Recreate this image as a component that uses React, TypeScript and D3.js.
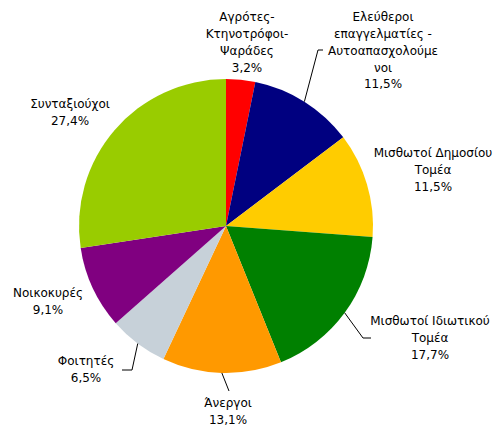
import React from "react";
import * as d3 from "d3";

const categories = [
  "Αγρότες-Κτηνοτρόφοι-Ψαράδες",
  "Ελεύθεροι επαγγελματίες - Αυτοαπασχολούμενοι",
  "Μισθωτοί Δημοσίου Τομέα",
  "Μισθωτοί Ιδιωτικού Τομέα",
  "Άνεργοι",
  "Φοιτητές",
  "Νοικοκυρές",
  "Συνταξιούχοι",
];
const values = [3.2, 11.5, 11.5, 17.7, 13.1, 6.5, 9.1, 27.4];
const labelLines = [
  ["Αγρότες-", "Κτηνοτρόφοι-", "Ψαράδες"],
  ["Ελεύθεροι", "επαγγελματίες -", "Αυτοαπασχολούμε", "νοι"],
  ["Μισθωτοί Δημοσίου", "Τομέα"],
  ["Μισθωτοί Ιδιωτικού", "Τομέα"],
  ["Άνεργοι"],
  ["Φοιτητές"],
  ["Νοικοκυρές"],
  ["Συνταξιούχοι"],
];
const colors = ["#FF0000", "#000080", "#FFCC00", "#008000", "#FF9900", "#C7D1D9", "#800080", "#99CC00"];

// label layout: center x, first line y (baseline-ish center), leader polyline (after edge point)
const layout: { x: number; y: number; leader?: [number, number][] }[] = [
  { x: 247, y: 17 },
  { x: 383, y: 17, leader: [[318, 50], [323, 50]] },
  { x: 433, y: 153 },
  { x: 430, y: 321, leader: [[363, 338], [371, 338]] },
  { x: 228, y: 403, leader: [[229, 391]] },
  { x: 86, y: 361, leader: [[132, 370], [122, 370]] },
  { x: 48, y: 293 },
  { x: 70, y: 104 },
];

const fmt = (v: number) => v.toFixed(1).replace(".", ",") + "%";

export default function App() {
  const cx = 226, cy = 226, r = 147;
  const pie = d3.pie<number>().sort(null).value((d) => d)(values);
  const arc = d3.arc<d3.PieArcDatum<number>>().innerRadius(0).outerRadius(r);
  const lh = 16.8;
  return (
    <svg width={494} height={427} style={{ display: "block", position: "absolute", left: 0, top: 0 }}
      fontFamily="'DejaVu Sans', Verdana, sans-serif" fontSize={12}>
      <rect width={494} height={427} fill="#fff" />
      <g transform={`translate(${cx},${cy})`}>
        {pie.map((p, i) => (
          <path key={i} d={arc(p) || ""} fill={colors[i]} />
        ))}
      </g>
      {pie.map((p, i) => {
        const L = layout[i];
        if (!L.leader) return null;
        const mid = (p.startAngle + p.endAngle) / 2;
        const ex = cx + r * Math.sin(mid), ey = cy - r * Math.cos(mid);
        const pts: [number, number][] = [[ex, ey], ...L.leader];
        return <path key={"l" + i} d={d3.line()(pts) || ""} fill="none" stroke="#000" strokeWidth={1} />;
      })}
      {pie.map((p, i) => {
        const L = layout[i];
        const lines = [...labelLines[i], fmt(values[i])];
        return (
          <text key={"t" + i} textAnchor="middle" fill="#000">
            {lines.map((s, j) => (
              <tspan key={j} x={L.x} y={L.y + j * lh} dy="0.35em">{s}</tspan>
            ))}
          </text>
        );
      })}
    </svg>
  );
}
